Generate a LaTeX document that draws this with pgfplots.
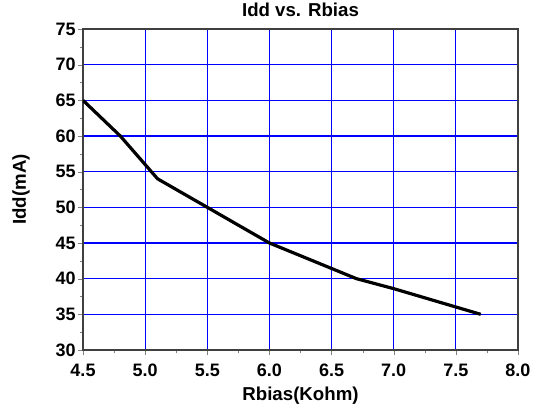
\documentclass[border=0pt]{standalone}
\usepackage{pgfplots}
\pgfplotsset{compat=1.18}
\usepackage{fontspec}
\setmainfont{Liberation Sans}
\begin{document}
\begin{tikzpicture}
\useasboundingbox (-62.25pt,-45pt) rectangle (342pt,262.5pt);
\begin{axis}[
  at={(0pt,0pt)}, anchor=south west,
  scale only axis,
  width=326.25pt, height=240.75pt,
  xmin=4.5, xmax=8.0, ymin=30, ymax=75,
  xtick={4.5,5.0,5.5,6.0,6.5,7.0,7.5,8.0},
  xticklabels={4.5,5.0,5.5,6.0,6.5,7.0,7.5,8.0},
  ytick={30,35,40,45,50,55,60,65,70,75},
  yticklabels={30,35,40,45,50,55,60,65,70,75},
  minor x tick num=1, minor y tick num=1,
  ticklabel style={font=\bfseries\fontsize{13.5}{15}\selectfont},
  xticklabel style={yshift=-3pt},
  yticklabel style={xshift=2pt},
  tick align=outside,
  major tick length=4pt, minor tick length=2.5pt,
  xtick pos=bottom, ytick pos=left,
  grid=major,
  grid style={draw=blue, line width=0.8pt},
  axis line style={black!75, line width=0.9pt},
  title={Idd vs. Rbias},
  title style={font=\bfseries\fontsize{14}{16}\selectfont, yshift=0pt},
  xlabel={Rbias(Kohm)}, ylabel={Idd(mA)},
  label style={font=\bfseries\fontsize{14}{16}\selectfont},
  ylabel style={yshift=12.5pt},
  xlabel style={yshift=-1pt},
]
\addplot[black, line width=2.4pt, no marks] coordinates {
(4.5,65) (4.8,60) (5.1,54) (5.5,50) (6.0,45) (6.7,40) (7.0,38.6) (7.7,35)
};
\end{axis}
\end{tikzpicture}
\end{document}
